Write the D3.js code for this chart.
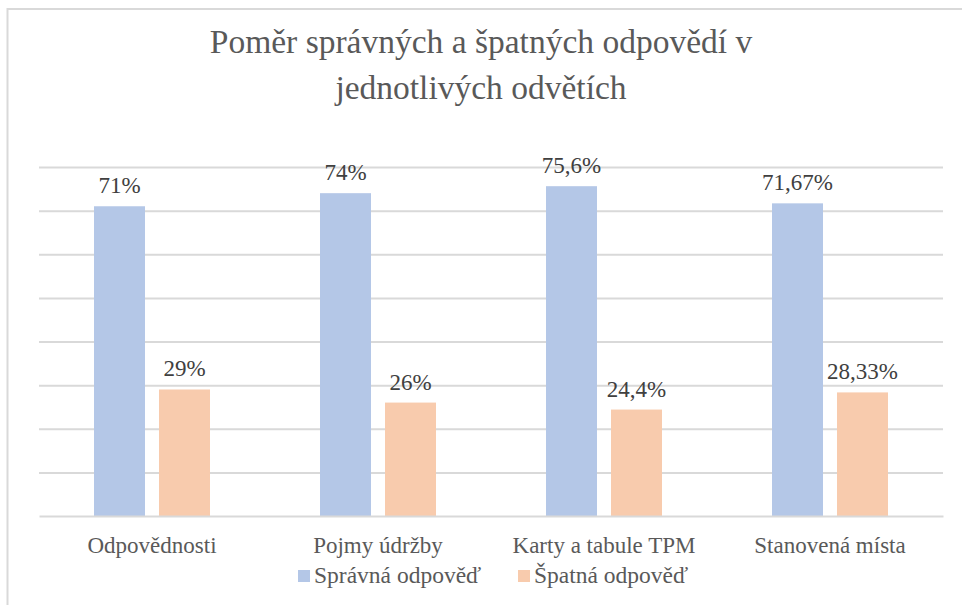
<!DOCTYPE html>
<html lang="cs">
<head>
<meta charset="utf-8">
<title>Poměr správných a špatných odpovědí</title>
<script src="https://cdn.jsdelivr.net/npm/d3@7"></script>
<style>
  body { margin: 0; background: #fff; }
  svg { display: block; }
  svg text { font-family: "Liberation Serif", "Times New Roman", Times, serif; }
</style>
</head>
<body>
<svg id="chart" width="962" height="605"></svg>
<script>
// data
var categories = ["Odpovědnosti", "Pojmy údržby", "Karty a tabule TPM", "Stanovená místa"];
var series = ["Správná odpověď", "Špatná odpověď"];
var spravne = [71, 74, 75.6, 71.67];
var spatne = [29, 26, 24.4, 28.33];
var spravneLabels = ["71%", "74%", "75,6%", "71,67%"];
var spatneLabels = ["29%", "26%", "24,4%", "28,33%"];
var yTicks = [10, 20, 30, 40, 50, 60, 70, 80];
var colors = ["#b4c7e7", "#f8cbad"];
var titleLines = ["Poměr správných a špatných odpovědí v", "jednotlivých odvětích"];

function draw() {
  var svg = d3.select("#chart");
  var W = 962, H = 605;
  var pLeft = 39, pRight = 943, pTop = 167, pBottom = 516;
  var serif = "Liberation Serif, Times New Roman, serif";

  // outer frame
  svg.append("rect")
    .attr("x", 7.5).attr("y", 9)
    .attr("width", W).attr("height", H)
    .attr("fill", "#fff").attr("stroke", "#d9d9d9").attr("stroke-width", 2);

  // title
  svg.append("g").selectAll("text").data(titleLines).enter()
    .append("text")
    .attr("x", 481).attr("y", function(d, i) { return 53 + i * 46; })
    .attr("text-anchor", "middle")
    .attr("font-family", serif)
    .attr("font-size", 33.5)
    .attr("fill", "#595959")
    .text(function(d) { return d; });

  var x0 = d3.scaleBand().domain(categories).range([pLeft, pRight]).padding(0);
  var x1 = d3.scaleBand().domain(series).range([0, x0.bandwidth()])
    .paddingInner(0.2154).paddingOuter(0.846);
  var y = d3.scaleLinear().domain([0, 80]).range([pBottom, pTop]);

  // gridlines
  var yAxis = d3.axisLeft(y).tickValues(yTicks).tickSize(-(pRight - pLeft)).tickFormat("");
  var gy = svg.append("g").attr("transform", "translate(" + pLeft + ",0)").call(yAxis);
  gy.select(".domain").remove();
  gy.selectAll(".tick line").attr("stroke", "#d9d9d9").attr("stroke-width", 2);

  var rows = categories.map(function(c, i) {
    return { cat: c, vals: [
      { s: series[0], v: spravne[i], lab: spravneLabels[i] },
      { s: series[1], v: spatne[i], lab: spatneLabels[i] }
    ]};
  });

  var groups = svg.append("g").selectAll("g").data(rows).enter()
    .append("g")
    .attr("transform", function(d) { return "translate(" + x0(d.cat) + ",0)"; });

  groups.selectAll("rect").data(function(d) { return d.vals; }).enter()
    .append("rect")
    .attr("x", function(d) { return x1(d.s); })
    .attr("y", function(d) { return y(d.v); })
    .attr("width", x1.bandwidth())
    .attr("height", function(d) { return pBottom - y(d.v); })
    .attr("fill", function(d, i) { return colors[i]; });

  groups.selectAll("text").data(function(d) { return d.vals; }).enter()
    .append("text")
    .attr("x", function(d) { return x1(d.s) + x1.bandwidth() / 2; })
    .attr("y", function(d) { return y(d.v) - 13; })
    .attr("text-anchor", "middle")
    .attr("font-family", serif)
    .attr("font-size", 23)
    .attr("fill", "#404040")
    .text(function(d) { return d.lab; });

  // x axis
  var xAxis = d3.axisBottom(x0).tickSize(0).tickPadding(0);
  var gx = svg.append("g").attr("transform", "translate(0," + pBottom + ")").call(xAxis);
  gx.attr("font-family", serif);
  gx.select(".domain").attr("stroke", "#d9d9d9").attr("stroke-width", 2);
  gx.selectAll(".tick text")
    .attr("font-family", serif)
    .attr("font-size", 23)
    .attr("fill", "#595959")
    .attr("dy", 0)
    .attr("y", 37);

  // legend
  var legX = [298, 518];
  var leg = svg.append("g").selectAll("g").data(series).enter()
    .append("g")
    .attr("transform", function(d, i) { return "translate(" + legX[i] + ",570)"; });
  leg.append("rect").attr("width", 12).attr("height", 12)
    .attr("fill", function(d, i) { return colors[i]; });
  leg.append("text").attr("x", 16).attr("y", 13)
    .attr("font-family", serif)
    .attr("font-size", 23.5).attr("fill", "#595959")
    .text(function(d) { return d; });
}

draw();
</script>
</body>
</html>
